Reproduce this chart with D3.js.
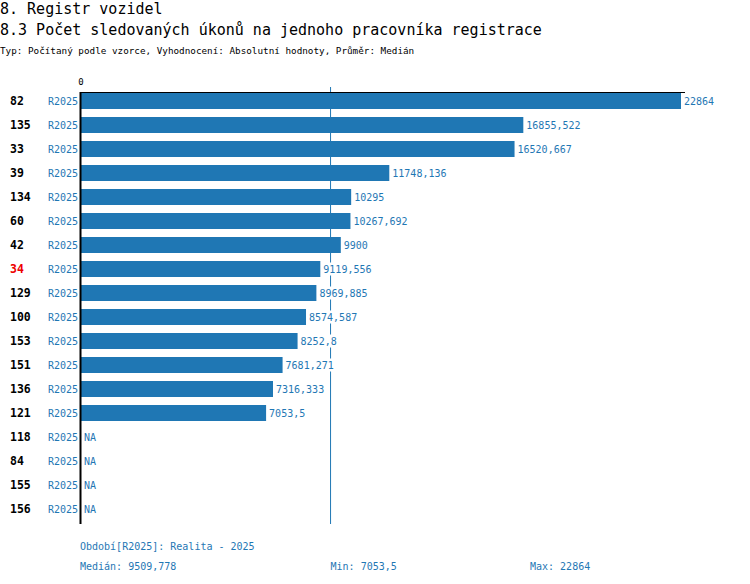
<!DOCTYPE html>
<html lang="cs">
<head>
  <meta charset="UTF-8">
  <title>8.3 Počet sledovaných úkonů na jednoho pracovníka registrace</title>
  <script src="https://d3js.org/d3.v7.min.js"></script>
  <style>
    body {
      margin: 0;
      background: #fff;
      font-family: "DejaVu Sans Mono", monospace;
    }
    svg text { font-family: "DejaVu Sans Mono", monospace; }
  </style>
</head>
<body>
  <svg id="chart" width="750" height="584"></svg>

  <script>
    const ids = ["82", "135", "33", "39", "134", "60", "42", "34", "129", "100",
                 "153", "151", "136", "121", "118", "84", "155", "156"];
    const values = [22864, 16855.522, 16520.667, 11748.136, 10295, 10267.692, 9900,
                    9119.556, 8969.885, 8574.587, 8252.8, 7681.271, 7316.333, 7053.5,
                    null, null, null, null];
    const highlightId = "34";
    const period = "R2025";
    const periodLabel = "Realita - 2025";
    const median = 9509.778;

    const blue = "#1f77b4";
    const svg = d3.select("#chart");

    const fmt = v => String(+v.toFixed(3)).replace(".", ",");

    // titles
    svg.append("text").attr("x", 0).attr("y", 14)
      .style("font-size", "15px").attr("fill", "#000")
      .text("8. Registr vozidel");
    svg.append("text").attr("x", 0).attr("y", 35)
      .style("font-size", "15px").attr("fill", "#000")
      .text("8.3 Počet sledovaných úkonů na jednoho pracovníka registrace");
    svg.append("text").attr("x", 0).attr("y", 54)
      .style("font-size", "9.3px").attr("fill", "#000")
      .text("Typ: Počítaný podle vzorce, Vyhodnocení: Absolutní hodnoty, Průměr: Medián");

    const x = d3.scaleLinear()
      .domain([0, d3.max(values)])
      .range([81, 681]);

    const y = d3.scaleBand()
      .domain(ids)
      .range([89, 521])
      .paddingInner(1 / 3)
      .paddingOuter(1 / 6);

    const rows = ids.map((id, i) => ({ id, value: values[i] }));

    // median line (behind bars)
    svg.append("line")
      .attr("x1", x(median)).attr("x2", x(median))
      .attr("y1", 87).attr("y2", 524)
      .attr("stroke", blue).attr("stroke-width", 1);

    // bars
    svg.selectAll(".bar")
      .data(rows.filter(d => d.value != null))
      .enter().append("rect")
      .attr("class", "bar")
      .attr("x", x(0))
      .attr("y", d => y(d.id))
      .attr("width", d => x(d.value) - x(0))
      .attr("height", y.bandwidth())
      .attr("fill", blue);

    // value labels with white background
    const labels = svg.selectAll(".val")
      .data(rows)
      .enter().append("g")
      .attr("class", "val")
      .attr("transform", d => `translate(${(d.value != null ? x(d.value) : x(0)) + 3},${y(d.id) + y.bandwidth() / 2})`);

    labels.each(function (d) {
      const g = d3.select(this);
      const txt = d.value != null ? fmt(d.value) : "NA";
      const t = g.append("text")
        .attr("dy", "0.35em")
        .style("font-size", "10px")
        .attr("fill", blue)
        .text(txt);
      const bb = t.node().getBBox();
      if (d.value != null) {
        g.insert("rect", "text")
          .attr("x", bb.x - 1).attr("y", bb.y - 1)
          .attr("width", bb.width + 6).attr("height", bb.height + 2)
          .attr("fill", "#fff");
      }
    });

    // row ids
    svg.selectAll(".rid")
      .data(rows)
      .enter().append("text")
      .attr("x", 10)
      .attr("y", d => y(d.id) + y.bandwidth() / 2)
      .attr("dy", "0.35em")
      .style("font-size", "11.5px")
      .style("font-weight", "bold")
      .attr("fill", d => d.id === highlightId ? "#e00" : "#000")
      .text(d => d.id);

    // period labels
    svg.selectAll(".per")
      .data(rows)
      .enter().append("text")
      .attr("x", 78)
      .attr("y", d => y(d.id) + y.bandwidth() / 2)
      .attr("dy", "0.35em")
      .attr("text-anchor", "end")
      .style("font-size", "10px")
      .attr("fill", blue)
      .text(period);

    // axes
    svg.append("line")
      .attr("x1", x(0) - 1).attr("x2", x.range()[1] + 4)
      .attr("y1", 92.5).attr("y2", 92.5)
      .attr("stroke", "#000").attr("stroke-width", 1);
    svg.append("line")
      .attr("x1", x(0) - 0.5).attr("x2", x(0) - 0.5)
      .attr("y1", 92).attr("y2", 524)
      .attr("stroke", "#000").attr("stroke-width", 2);
    svg.append("text")
      .attr("x", x(0)).attr("y", 85)
      .attr("text-anchor", "middle")
      .style("font-size", "9px")
      .attr("fill", "#000")
      .text(x.tickFormat()(0));

    // footer
    const foot = (tx, fx, fy) => svg.append("text")
      .attr("x", fx).attr("y", fy)
      .style("font-size", "10px").attr("fill", blue)
      .text(tx);
    const present = values.filter(v => v != null);
    foot(`Období[${period}]: ${periodLabel}`, 80, 550);
    foot(`Medián: ${fmt(median)}`, 80, 570);
    foot(`Min: ${fmt(d3.min(present))}`, x(median), 570);
    foot(`Max: ${fmt(d3.max(present))}`, 530, 570);
  </script>
</body>
</html>
